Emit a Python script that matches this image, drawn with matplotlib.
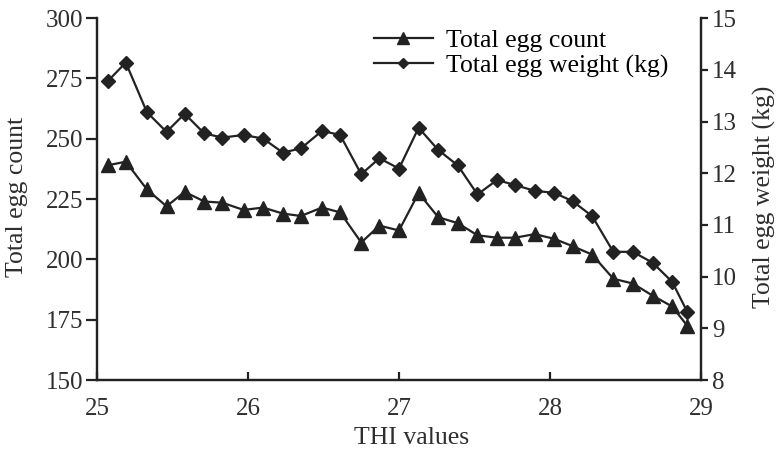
import numpy as np
import matplotlib.pyplot as plt

plt.rcParams['font.family'] = ['Liberation Serif', 'DejaVu Serif']

thi = [25.07, 25.19, 25.33, 25.46, 25.58, 25.71, 25.83, 25.97, 26.10, 26.23,
       26.35, 26.49, 26.61, 26.75, 26.87, 27.00, 27.13, 27.26, 27.39, 27.52,
       27.65, 27.77, 27.90, 28.03, 28.15, 28.28, 28.42, 28.55, 28.68, 28.81, 28.91]
egg_count = [239, 240.5, 229, 222, 228, 224, 223.5, 220.5, 221.5, 219,
             218, 221.5, 219.5, 207, 214, 212, 227.5, 217.5, 215, 210,
             209, 209, 210.5, 208.5, 205.5, 202, 192, 190, 185, 180.5, 172.5]
egg_weight = [13.78, 14.14, 13.18, 12.80, 13.15, 12.77, 12.69, 12.74, 12.67, 12.40,
              12.48, 12.82, 12.74, 11.98, 12.29, 12.09, 12.88, 12.45, 12.15, 11.59,
              11.87, 11.77, 11.66, 11.62, 11.46, 11.17, 10.48, 10.48, 10.27, 9.90, 9.32]

col = '#222222'
tcol = '#2e2e2e'
fig = plt.figure(figsize=(7.77, 4.53), dpi=100)
ax = fig.add_axes([0.125, 0.161, 0.777, 0.799])
ax2 = ax.twinx()

l1, = ax.plot(thi, egg_count, color=col, lw=1.6, marker='^', ms=10, label='Total egg count')
l2, = ax2.plot(thi, egg_weight, color=col, lw=1.6, marker='D', ms=7, label='Total egg weight (kg)')

ax.set_xlim(25, 29)
ax.set_ylim(150, 300)
ax2.set_ylim(8, 15)
ax.set_xticks([25, 26, 27, 28, 29])
ax.set_yticks(np.arange(150, 301, 25))
ax2.set_yticks(np.arange(8, 16, 1))

for a in (ax, ax2):
    a.spines['top'].set_visible(False)
    for s in a.spines.values():
        s.set_linewidth(1.6)
        s.set_color(col)
ax.tick_params(axis='x', direction='in', length=6, width=1.6, labelsize=18,
               color=col, labelcolor=tcol, pad=13)
ax.tick_params(axis='y', direction='out', length=8, width=1.6, labelsize=18,
               color=col, labelcolor=tcol, pad=2)
ax2.tick_params(axis='y', direction='out', length=5, width=1.6, labelsize=18,
                color=col, labelcolor=tcol, pad=3)

ax.set_xlabel('THI values', fontsize=18.5, color=tcol)
ax.set_ylabel('Total egg count', fontsize=18.5, color=tcol)
ax2.set_ylabel('Total egg weight (kg)', fontsize=18.5, color=tcol)
ax.xaxis.set_label_coords(0.52, -0.13)
ax.yaxis.set_label_coords(-0.114, 0.506)
ax2.yaxis.set_label_coords(1.086, 0.507)

ax.legend(handles=[l1, l2], loc='upper left', bbox_to_anchor=(0.42, 1.035), frameon=False,
          fontsize=18.5, handlelength=2.3, handletextpad=0.5, labelspacing=0.1,
          markerscale=0.8)

fig.savefig('out.png', dpi=100)
